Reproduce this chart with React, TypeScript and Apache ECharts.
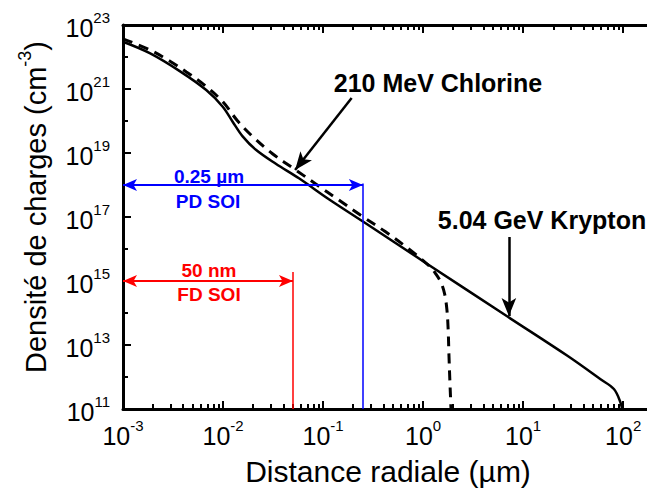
import React, { useEffect, useRef } from 'react';
import * as echarts from 'echarts';

// Radial distance (µm) and charge density (cm^-3)
const kryptonR = [0.001, 0.00185, 0.00369, 0.00679, 0.00993, 0.01247, 0.0157, 0.0213, 0.0337, 0.0574, 0.1143, 0.264, 1.045, 7.03, 27.7, 59.4, 80.7, 94, 98.9];
const kryptonN = [3.0e22, 1.32e22, 3.63e21, 9.3e20, 2.8e20, 9.5e19, 3.3e19, 1.26e19, 4.6e18, 1.62e18, 3.6e17, 6.5e16, 3.8e15, 7.6e13, 4.6e12, 8.5e11, 4.2e11, 1.6e11, 8e10];

const chlorineR = [0.001, 0.00186, 0.00295, 0.0043, 0.00653, 0.00993, 0.014, 0.0197, 0.0312, 0.0533, 0.0873, 0.1435, 0.236, 0.418, 0.741, 1.17, 1.35, 1.51, 1.64, 1.73, 1.78, 1.81, 1.85, 1.89, 1.905];
const chlorineN = [3.7e22, 1.66e22, 7.4e21, 3.4e21, 1.32e21, 4.0e20, 1.0e20, 3.3e19, 9.5e18, 2.95e18, 1.0e18, 3.4e17, 1.15e17, 3.5e16, 9.3e15, 2.8e15, 1.6e15, 8.9e14, 4.0e14, 1.26e14, 3.0e13, 5.5e12, 8.1e11, 1.5e11, 8e10];

// Axis ranges (µm, cm^-3)
const xMinR = 0.001;
const xMaxR = 173;
const yMinN = 1e11;
const yMaxN = 1e23;
const xDecades = [-3, -2, -1, 0, 1, 2];

// SOI widths (µm) and the density level of their arrows
const pdWidth = 0.25;
const pdLevel = 1e18;
const pdTop = 1.12e18;
const fdWidth = 0.05;
const fdLevel = 1e15;
const fdTop = 1.9e15;

// Annotation arrows [r, n]
const chlorineArrowFrom = [0.193, 5.25e20];
const chlorineArrowTo = [0.0525, 2.95e18];
const kryptonArrowFrom = [7.2, 2.37e16];
const kryptonArrowTo = [7.2, 8.0e13];

const L = Math.log10;
const FONT = '"Liberation Sans", Arial, Helvetica, sans-serif';

export default function App() {
  const ref = useRef<HTMLDivElement>(null);
  useEffect(() => {
    if (!ref.current) return;
    const chart = echarts.init(ref.current, null, { renderer: 'svg' });

    const xMin = L(xMinR);
    const xMax = L(xMaxR);
    const yMin = L(yMinN);
    const yMax = L(yMaxN);
    const minorX: number[] = [];
    for (let n = -3; n <= 1; n++) for (let k = 2; k <= 9; k++) minorX.push(L(k) + n);

    const richLabel = {
      b: { fontSize: 25, lineHeight: 30, verticalAlign: 'bottom', fontFamily: FONT, color: '#000' },
      s: { fontSize: 15, lineHeight: 15, verticalAlign: 'top', fontFamily: FONT, color: '#000' },
    };
    const fmt = (v: number) => '{b|10}{s|' + Math.round(v) + '}';

    const baseX = (pos: 'top' | 'bottom', major: boolean) => ({
      type: 'value',
      position: pos,
      min: xMin,
      max: xMax,
      gridIndex: 0,
      splitLine: { show: false },
      axisLine: { show: major, onZero: false, lineStyle: { color: '#000', width: 3 } },
      axisTick: {
        show: true,
        inside: true,
        length: major ? 8 : 5,
        customValues: major ? xDecades : minorX,
        lineStyle: { color: '#000', width: 2 },
      },
      axisLabel: {
        show: major && pos === 'bottom',
        customValues: xDecades,
        formatter: fmt,
        margin: 9,
        rich: richLabel,
      },
    });

    const toPts = (rs: number[], ns: number[]) => rs.map((r, i) => [L(r), L(ns[i])]);

    const option: any = {
      animation: false,
      backgroundColor: '#fff',
      grid: { left: 123, top: 25, width: 527, height: 384, containLabel: false },
      xAxis: [baseX('bottom', true), baseX('bottom', false), baseX('top', true), baseX('top', false)],
      yAxis: [
        {
          type: 'value',
          position: 'left',
          min: yMin,
          max: yMax,
          interval: 2,
          splitLine: { show: false },
          axisLine: { show: true, onZero: false, lineStyle: { color: '#000', width: 3 } },
          axisTick: { show: true, inside: true, length: 8, lineStyle: { color: '#000', width: 2 } },
          minorTick: { show: true, splitNumber: 2, length: 5, lineStyle: { color: '#000', width: 2 } },
          axisLabel: { formatter: fmt, margin: 13, rich: richLabel },
        },
      ],
      series: [
        {
          name: '5.04 GeV Krypton',
          type: 'line',
          data: toPts(kryptonR, kryptonN),
          showSymbol: false,
          symbol: 'none',
          smooth: 0.35,
          lineStyle: { color: '#000', width: 2.5 },
          clip: true,
        },
        {
          name: '210 MeV Chlorine',
          type: 'line',
          data: toPts(chlorineR, chlorineN),
          showSymbol: false,
          symbol: 'none',
          smooth: 0.35,
          lineStyle: { color: '#000', width: 3, type: [10, 7], cap: 'butt' },
          clip: true,
        },
        {
          type: 'line',
          data: [[xMin, yMin]],
          symbol: 'none',
          lineStyle: { opacity: 0 },
          silent: true,
          markLine: {
            silent: true,
            label: { show: false },
            symbol: ['none', 'none'],
            data: [
              [
                { coord: [xMin, L(pdLevel)], symbol: 'arrow', symbolSize: [9, 14], lineStyle: { color: '#0000ff', width: 2, type: 'solid' } },
                { coord: [L(pdWidth), L(pdLevel)], symbol: 'arrow', symbolSize: [9, 14] },
              ],
              [
                { coord: [L(pdWidth), yMin], symbol: 'none', lineStyle: { color: '#0000ff', width: 1.5, type: 'solid' } },
                { coord: [L(pdWidth), L(pdTop)], symbol: 'none' },
              ],
              [
                { coord: [xMin, L(fdLevel)], symbol: 'arrow', symbolSize: [9, 14], lineStyle: { color: '#ff0000', width: 2, type: 'solid' } },
                { coord: [L(fdWidth), L(fdLevel)], symbol: 'arrow', symbolSize: [9, 14] },
              ],
              [
                { coord: [L(fdWidth), yMin], symbol: 'none', lineStyle: { color: '#ff0000', width: 1.5, type: 'solid' } },
                { coord: [L(fdWidth), L(fdTop)], symbol: 'none' },
              ],
              [
                { coord: [L(chlorineArrowFrom[0]), L(chlorineArrowFrom[1])], symbol: 'none', lineStyle: { color: '#000', width: 2.5, type: 'solid' } },
                { coord: [L(chlorineArrowTo[0]), L(chlorineArrowTo[1])], symbol: 'arrow', symbolSize: [11, 18] },
              ],
              [
                { coord: [L(kryptonArrowFrom[0]), L(kryptonArrowFrom[1])], symbol: 'none', lineStyle: { color: '#000', width: 2.5, type: 'solid' } },
                { coord: [L(kryptonArrowTo[0]), L(kryptonArrowTo[1])], symbol: 'arrow', symbolSize: [11, 18] },
              ],
            ],
          },
        },
      ],
      graphic: [
        {
          type: 'text', x: 438, y: 83,
          style: { text: '210 MeV Chlorine', font: 'bold 25px ' + FONT, fill: '#000', align: 'center', verticalAlign: 'middle' },
        },
        {
          type: 'text', x: 542, y: 220,
          style: { text: '5.04 GeV Krypton', font: 'bold 25px ' + FONT, fill: '#000', align: 'center', verticalAlign: 'middle' },
        },
        {
          type: 'text', x: 209, y: 176.5,
          style: { text: '0.25 µm', font: 'bold 19px ' + FONT, fill: '#0000ff', align: 'center', verticalAlign: 'middle' },
        },
        {
          type: 'text', x: 208, y: 201,
          style: { text: 'PD SOI', font: 'bold 19px ' + FONT, fill: '#0000ff', align: 'center', verticalAlign: 'middle' },
        },
        {
          type: 'text', x: 209, y: 270,
          style: { text: '50 nm', font: 'bold 19px ' + FONT, fill: '#ff0000', align: 'center', verticalAlign: 'middle' },
        },
        {
          type: 'text', x: 209, y: 294,
          style: { text: 'FD SOI', font: 'bold 19px ' + FONT, fill: '#ff0000', align: 'center', verticalAlign: 'middle' },
        },
        {
          type: 'text', x: 388, y: 471,
          style: { text: 'Distance radiale (µm)', font: '30px ' + FONT, fill: '#000', align: 'center', verticalAlign: 'middle' },
        },
        {
          type: 'text', x: 33, y: 207, rotation: Math.PI / 2,
          style: {
            text: '{b|Densité de charges (cm}{s|-3}{b|)}',
            align: 'center',
            verticalAlign: 'middle',
            rich: {
              b: { fontSize: 29, lineHeight: 35, verticalAlign: 'bottom', fontFamily: FONT, fill: '#000' },
              s: { fontSize: 18, lineHeight: 18, verticalAlign: 'top', fontFamily: FONT, fill: '#000' },
            },
          },
        },
      ],
    };
    chart.setOption(option);
    return () => chart.dispose();
  }, []);
  return <div ref={ref} style={{ position: 'fixed', left: 0, top: 0, width: 647, height: 491, background: '#fff' }} />;
}
